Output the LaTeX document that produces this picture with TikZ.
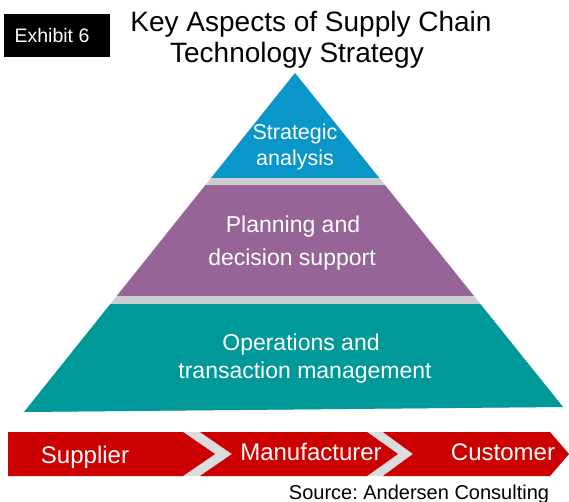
\documentclass[tikz,border=0pt]{standalone}
\usepackage{fontspec}
\setmainfont{Liberation Sans}
\definecolor{stratblue}{RGB}{10,150,200}
\definecolor{planpurple}{RGB}{150,100,150}
\definecolor{opsteal}{RGB}{0,153,153}
\definecolor{chainred}{RGB}{204,0,0}
\definecolor{gapgray}{RGB}{205,205,205}
\begin{document}
\begin{tikzpicture}[x=1pt,y=-1pt,
   heading/.style={anchor=base, font=\fontsize{28}{30}\selectfont},
   layertext/.style={anchor=base, text=white, font=\fontsize{23}{25}\selectfont},
   linktext/.style={anchor=base, text=white, font=\fontsize{24}{26}\selectfont}]
\useasboundingbox (0,0) rectangle (569,502);

% tag and title
\fill[black] (4,14) rectangle (110,57);
\node[anchor=base, text=white, font=\fontsize{19.5}{21}\selectfont] (tag) at (52,43) {Exhibit 6};
\node[heading] (title1) at (311,32) {Key Aspects of Supply Chain};
\node[heading] (title2) at (297,63) {Technology Strategy};

% pyramid
\coordinate (apex) at (295,73);
\coordinate (baseL) at (24,412);
\coordinate (baseR) at (563,407);
\begin{scope}
   \clip (apex) -- (baseL) -- (baseR) -- cycle;
   \fill[gapgray] (0,60) rectangle (569,412);
   \fill[stratblue] (0,60) rectangle (569,178);
   \fill[planpurple] (0,185) rectangle (569,296);
   \fill[opsteal] (0,304) rectangle (569,412);
\end{scope}
\node[layertext, font=\fontsize{21.5}{23}\selectfont] (strat1) at (295,140) {Strategic};
\node[layertext, font=\fontsize{21.5}{23}\selectfont] (strat2) at (295,166) {analysis};
\node[layertext] (plan1) at (293,233) {Planning and};
\node[layertext] (plan2) at (292,265) {decision support};
\node[layertext] (ops1) at (301,350) {Operations and};
\node[layertext] (ops2) at (305,378) {transaction management};

% supply chain arrows
\fill[gapgray!70] (8,432) -- (550,432) -- (569,454) -- (550,476) -- (8,476) -- cycle;
\fill[chainred] (8,432) -- (183,432) -- (215,454) -- (183,476) -- (8,476) -- cycle;
\fill[chainred] (200,432) -- (367,432) -- (398,454) -- (367,476) -- (200,476) -- (232,454) -- cycle;
\fill[chainred] (383,432) -- (550,432) -- (569,454) -- (550,476) -- (383,476) -- (413,454) -- cycle;
\node[linktext] (supplier) at (85,463) {Supplier};
\node[linktext] (maker) at (311,460) {Manufacturer};
\node[linktext] (customer) at (503,460) {Customer};

\node[anchor=base, font=\fontsize{20}{22}\selectfont] (source) at (419,499) {\frenchspacing Source: Andersen Consulting};
\end{tikzpicture}
\end{document}
